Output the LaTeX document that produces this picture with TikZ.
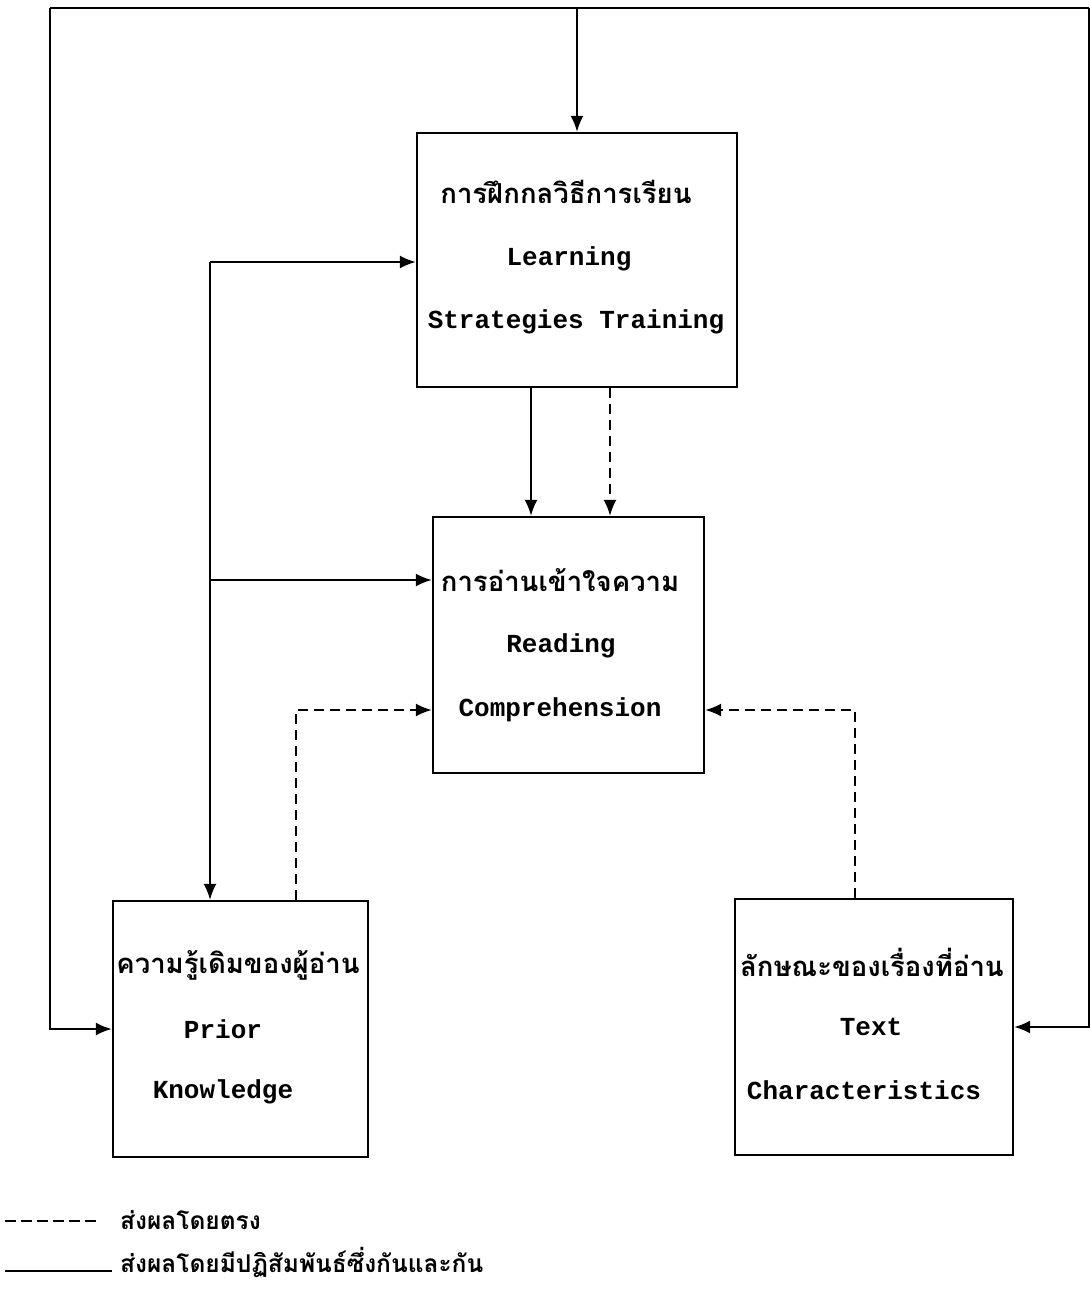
\documentclass[tikz,border=0pt]{standalone}
\usepackage{fontspec}
\usetikzlibrary{arrows.meta,calc}
\newfontfamily\thaifont[Script=Thai]{Loma}
\newfontfamily\engfont{Liberation Mono}
\begin{document}
\begin{tikzpicture}[x=1pt,y=-1pt,
  box/.style={draw,line width=2.2pt,inner sep=0pt},
  thl/.style={font=\thaifont\bfseries\fontsize{27.5}{29}\selectfont,inner sep=0pt},
  lgl/.style={font=\thaifont\bfseries\fontsize{24.5}{26}\selectfont,inner sep=0pt},
  enl/.style={font=\engfont\bfseries\fontsize{26}{28}\selectfont,inner sep=0pt},
  conn/.style={line width=2.2pt,-{Latex[length=16pt,width=13pt]}},
  dconn/.style={conn,dash pattern=on 10pt off 6pt},
  lin/.style={line width=2.2pt},
]
\useasboundingbox (0,0) rectangle (1090,1299);
\fill[white] (0,0) rectangle (1090,1299);

% boxes
\node[box,minimum width=320pt,minimum height=254pt] (LST) at (577,260) {};
\node[box,minimum width=271pt,minimum height=256pt] (RC) at (568.5,645) {};
\node[box,minimum width=255pt,minimum height=256pt] (PK) at (240.5,1029) {};
\node[box,minimum width=278pt,minimum height=256pt] (TC) at (874,1027) {};

% texts
\node[thl] (t1) at (566,192) {การฝึกกลวิธีการเรียน};
\node[enl] (e1a) at (569,259) {Learning};
\node[enl] (e1b) at (576,322) {Strategies Training};

\node[thl] (t2) at (560,580) {การอ่านเข้าใจความ};
\node[enl] (e2a) at (561,646) {Reading};
\node[enl] (e2b) at (560,710) {Comprehension};

\node[thl] (t3) at (238,965) {ความรู้เดิมของผู้อ่าน};
\node[enl] (e3a) at (223,1029) {Prior};
\node[enl] (e3b) at (223,1092) {Knowledge};

\node[thl] (t4) at (872,962) {ลักษณะของเรื่องที่อ่าน};
\node[enl] (e4a) at (871,1027) {Text};
\node[enl] (e4b) at (864,1090) {Characteristics};

% outer loop
\coordinate (cTL) at (50,8);
\coordinate (cTR) at (1089,8);
\coordinate (cTop) at (577,8);
\draw[lin] (cTL) -- (cTR);
\draw[conn] (cTop) -- (LST.north);
\draw[conn] (cTL) |- (PK.west);
\draw[conn] (cTR) |- (TC.east);

% left trunk
\coordinate (k) at (210,262);
\coordinate (m) at (210,580);
\draw[conn] (k) -- (k -| LST.west);
\draw[conn] (k) -- (k |- PK.north);
\draw[conn] (m) -- (m -| RC.west);

% top to middle
\draw[conn] ([xshift=-46pt]LST.south) -- ([xshift=-46pt]LST.south |- RC.north);
\draw[dconn] ([xshift=33pt]LST.south) -- ([xshift=33pt]LST.south |- RC.north);

% dashed from bottom boxes
\draw[dconn] ([xshift=55.5pt]PK.north) |- ([yshift=-65pt]RC.west);
\draw[dconn] ([xshift=-19pt]TC.north) |- ([yshift=-65pt]RC.east);

% legend
\node[lgl,anchor=west] (lg1) at (120,1220) {ส่งผลโดยตรง};
\node[lgl,anchor=west] (lg2) at (120,1262) {ส่งผลโดยมีปฏิสัมพันธ์ซึ่งกันและกัน};
\coordinate (ld1) at (5,1221);
\coordinate (ld2) at (5,1271);
\draw[lin,dash pattern=on 11pt off 5pt] (ld1) -- (ld1 -| 100,0);
\draw[lin] (ld2) -- (ld2 -| 112,0);
\end{tikzpicture}
\end{document}
